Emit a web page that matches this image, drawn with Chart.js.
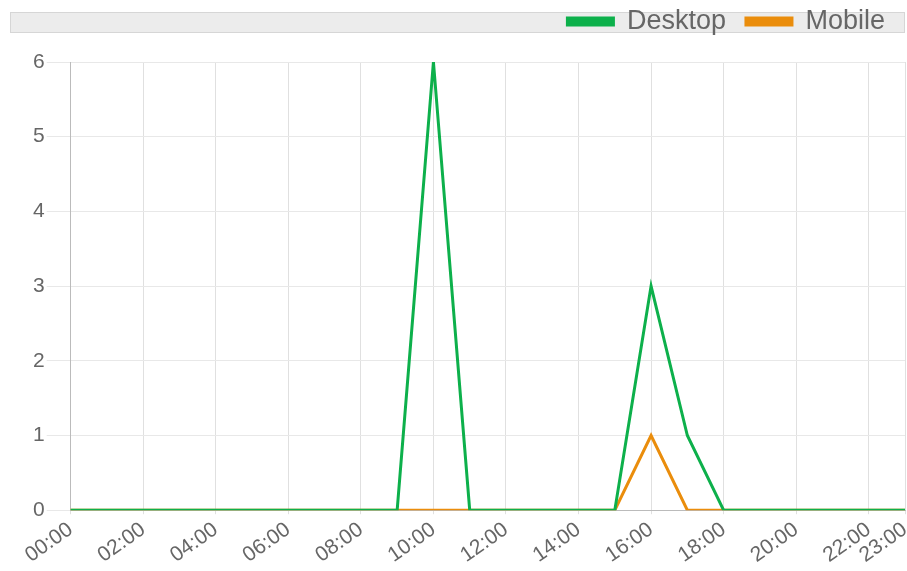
<!DOCTYPE html>
<html>
<head>
<meta charset="utf-8">
<script src="https://cdn.jsdelivr.net/npm/chart.js@4"></script>
<style>
    html, body { margin: 0; padding: 0; background: #fff; }
    #wrap { width: 907px; height: 571px; position: relative; }
</style>
</head>
<body>
<div id="wrap"><canvas id="trafficChart"></canvas></div>
<script>
const hours = ['00:00', '01:00', '02:00', '03:00', '04:00', '05:00', '06:00', '07:00',
    '08:00', '09:00', '10:00', '11:00', '12:00', '13:00', '14:00', '15:00',
    '16:00', '17:00', '18:00', '19:00', '20:00', '21:00', '22:00', '23:00'];
const desktopVisits = [0, 0, 0, 0, 0, 0, 0, 0, 0, 0, 6, 0, 0, 0, 0, 0, 3, 1, 0, 0, 0, 0, 0, 0];
const mobileVisits = [0, 0, 0, 0, 0, 0, 0, 0, 0, 0, 0, 0, 0, 0, 0, 0, 1, 0, 0, 0, 0, 0, 0, 0];

const FONT = "'Liberation Sans', Arial, sans-serif";

// grey strip behind the legend + extra room below it
const legendStrip = {
    id: 'legendStrip',
    afterInit(chart) {
        const lg = chart.legend;
        const origFit = lg.fit;
        lg.fit = function () {
            origFit.call(this);
            this.height += 17;
        };
    },
    beforeDraw(chart) {
        const ctx = chart.ctx;
        ctx.save();
        ctx.fillStyle = '#ececec';
        ctx.strokeStyle = '#d6d6d6';
        ctx.lineWidth = 1;
        ctx.fillRect(10, 12, chart.width - 12, 21);
        ctx.strokeRect(10.5, 12.5, chart.width - 13, 20);
        ctx.restore();
    }
};

new Chart(document.getElementById('trafficChart'), {
    type: 'line',
    data: {
        labels: hours,
        datasets: [
            {
                label: 'Desktop',
                data: desktopVisits,
                borderColor: '#0db04b',
                backgroundColor: '#0db04b',
                borderWidth: 3,
                pointRadius: 0,
                tension: 0,
                fill: false
            },
            {
                label: 'Mobile',
                data: mobileVisits,
                borderColor: '#ea8d0c',
                backgroundColor: '#ea8d0c',
                borderWidth: 3,
                pointRadius: 0,
                tension: 0,
                fill: false
            }
        ]
    },
    options: {
        responsive: true,
        maintainAspectRatio: false,
        animation: false,
        layout: { padding: { left: 31, right: 2, top: -12, bottom: 0 } },
        plugins: {
            legend: {
                align: 'end',
                labels: {
                    boxWidth: 46,
                    boxHeight: 7,
                    padding: 20,
                    color: '#666',
                    font: { family: FONT, size: 27 }
                }
            },
            tooltip: { enabled: false }
        },
        scales: {
            x: {
                grid: { color: '#e0e0e0', tickLength: 4 },
                border: { color: '#bbb' },
                afterFit: (scale) => { scale.paddingRight = 0; scale.paddingLeft = 0; },
                ticks: {
                    autoSkip: false,
                    maxRotation: 35,
                    minRotation: 35,
                    color: '#666',
                    font: { family: FONT, size: 21 },
                    callback: (value, index) =>
                        (index % 2 === 0 || index === hours.length - 1) ? hours[index] : null
                }
            },
            y: {
                min: 0,
                max: 6,
                grid: { color: '#e8e8e8', tickLength: 24 },
                border: { color: '#bbb' },
                ticks: {
                    stepSize: 1,
                    color: '#666',
                    padding: 2,
                    font: { family: FONT, size: 21 }
                }
            }
        }
    },
    plugins: [legendStrip]
});
</script>
</body>
</html>
